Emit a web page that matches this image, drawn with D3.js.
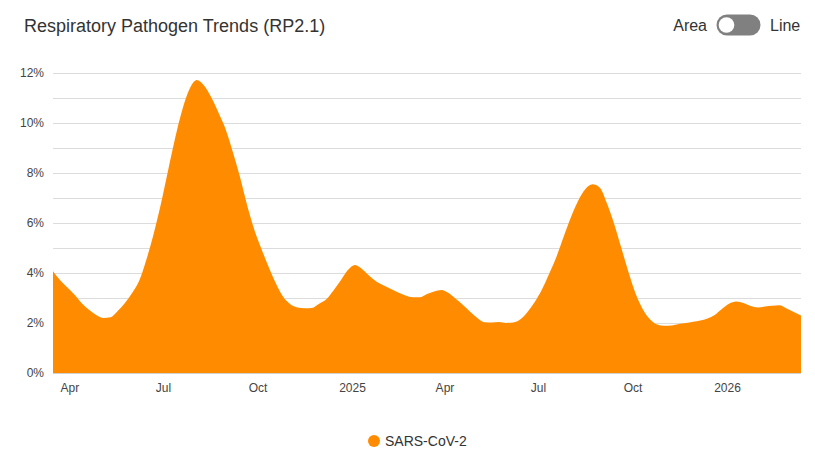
<!DOCTYPE html>
<html>
<head>
<meta charset="utf-8">
<script src="https://cdn.jsdelivr.net/npm/d3@7/dist/d3.min.js"></script>
<style>
  html, body { margin: 0; padding: 0; background: #fff; }
  svg { display: block; font-family: "Liberation Sans", Arial, sans-serif; }
</style>
</head>
<body>
<svg id="chart" width="815" height="455"></svg>
<script>
// ---- data ----
const title = "Respiratory Pathogen Trends (RP2.1)";
const seriesName = "SARS-CoV-2";
const firstWeek = "2024-03-16";   // weekly observations (week ending Saturday)
const values = [
  4.07, 3.71, 3.42, 3.13, 2.79, 2.53, 2.32, 2.20, 2.23, 2.48,
  2.80, 3.20, 3.70, 4.55, 5.57, 6.76, 8.10, 9.42, 10.55, 11.37,
  11.72, 11.50, 11.03, 10.42, 9.75, 8.84, 7.84, 6.70, 5.72, 4.95,
  4.23, 3.58, 3.05, 2.75, 2.62, 2.59, 2.60, 2.77, 2.95, 3.30,
  3.70, 4.12, 4.32, 4.15, 3.88, 3.65, 3.50, 3.36, 3.22, 3.10,
  3.03, 3.03, 3.16, 3.26, 3.32, 3.20, 2.97, 2.72, 2.45, 2.20,
  2.03, 2.02, 2.04, 2.00, 2.02, 2.15, 2.45, 2.85, 3.35, 3.98,
  4.65, 5.45, 6.22, 6.88, 7.35, 7.55, 7.42, 6.80, 5.98, 5.02,
  4.05, 3.18, 2.55, 2.15, 1.94, 1.89, 1.90, 1.96, 2.00, 2.05,
  2.10, 2.18, 2.32, 2.56, 2.77, 2.86, 2.80, 2.68, 2.62, 2.66,
  2.69, 2.71, 2.58, 2.44, 2.30
];
const yTicks = [0, 2, 4, 6, 8, 10, 12];
const yGrid = [0, 1, 2, 3, 4, 5, 6, 7, 8, 9, 10, 11, 12];
const xTickDates = ["2024-04-01", "2024-07-01", "2024-10-01", "2025-01-01",
                    "2025-04-01", "2025-07-01", "2025-10-01", "2026-01-01"];
const xTickLabels = ["Apr", "Jul", "Oct", "2025", "Apr", "Jul", "Oct", "2026"];
const toggleLabels = ["Area", "Line"];

// ---- build ----
const parse = d3.timeParse("%Y-%m-%d");
const start = parse(firstWeek);
const data = values.map((v, i) => ({ date: d3.timeDay.offset(start, 7 * i), value: v }));

const svg = d3.select("#chart");
const W = 815, H = 455;
const m = { left: 53, right: 14, top: 73, bottom: 82 };

const x = d3.scaleTime()
  .domain(d3.extent(data, d => d.date))
  .range([m.left, W - m.right]);
const y = d3.scaleLinear().domain([0, 12]).range([H - m.bottom, m.top]);

// title
svg.append("text")
  .attr("x", 24).attr("y", 32)
  .attr("font-size", 18).attr("fill", "#333")
  .text(title);

// toggle
const tg = svg.append("g");
tg.append("text").attr("x", 707).attr("y", 31).attr("text-anchor", "end")
  .attr("font-size", 16).attr("fill", "#333").text(toggleLabels[0]);
tg.append("rect").attr("x", 716.5).attr("y", 14.5).attr("width", 44).attr("height", 21)
  .attr("rx", 10.5).attr("fill", "#808080");
tg.append("circle").attr("cx", 726.5).attr("cy", 25).attr("r", 7.8).attr("fill", "#fff");
tg.append("text").attr("x", 770).attr("y", 31)
  .attr("font-size", 16).attr("fill", "#333").text(toggleLabels[1]);

// grid
svg.append("g").selectAll("line").data(yGrid).join("line")
  .attr("x1", m.left).attr("x2", W - m.right)
  .attr("y1", d => Math.round(y(d)) + 0.5).attr("y2", d => Math.round(y(d)) + 0.5)
  .attr("stroke", "#dcdcdc").attr("stroke-width", 1);

// y labels
const yAxis = d3.axisLeft(y).tickValues(yTicks).tickSize(0).tickPadding(9)
  .tickFormat(d => d + "%");
svg.append("g").attr("transform", `translate(${m.left},0)`).call(yAxis)
  .call(g => g.select(".domain").remove())
  .call(g => g.selectAll("text").attr("font-size", 12).attr("fill", "#444")
    .attr("font-family", "Liberation Sans, Arial, sans-serif"));

// area
const area = d3.area()
  .x(d => x(d.date)).y0(y(0)).y1(d => y(d.value))
  .curve(d3.curveMonotoneX);
svg.append("path").datum(data).attr("d", area).attr("fill", "#ff8c00");

// baseline
svg.append("line").attr("x1", m.left).attr("x2", W - m.right)
  .attr("y1", y(0) + 0.5).attr("y2", y(0) + 0.5)
  .attr("stroke", "#d0d0d0").attr("stroke-width", 1);

// x labels
const xAxis = d3.axisBottom(x).tickValues(xTickDates.map(parse)).tickSize(0).tickPadding(10)
  .tickFormat((d, i) => xTickLabels[i]);
svg.append("g").attr("transform", `translate(0,${y(0)})`).call(xAxis)
  .call(g => g.select(".domain").remove())
  .call(g => g.selectAll("text").attr("font-size", 12).attr("fill", "#444")
    .attr("font-family", "Liberation Sans, Arial, sans-serif"));

// legend
const lg = svg.append("g");
lg.append("circle").attr("cx", 374).attr("cy", 441).attr("r", 6).attr("fill", "#ff8c00");
lg.append("text").attr("x", 385).attr("y", 446).attr("font-size", 14).attr("fill", "#333")
  .text(seriesName);
</script>
</body>
</html>
